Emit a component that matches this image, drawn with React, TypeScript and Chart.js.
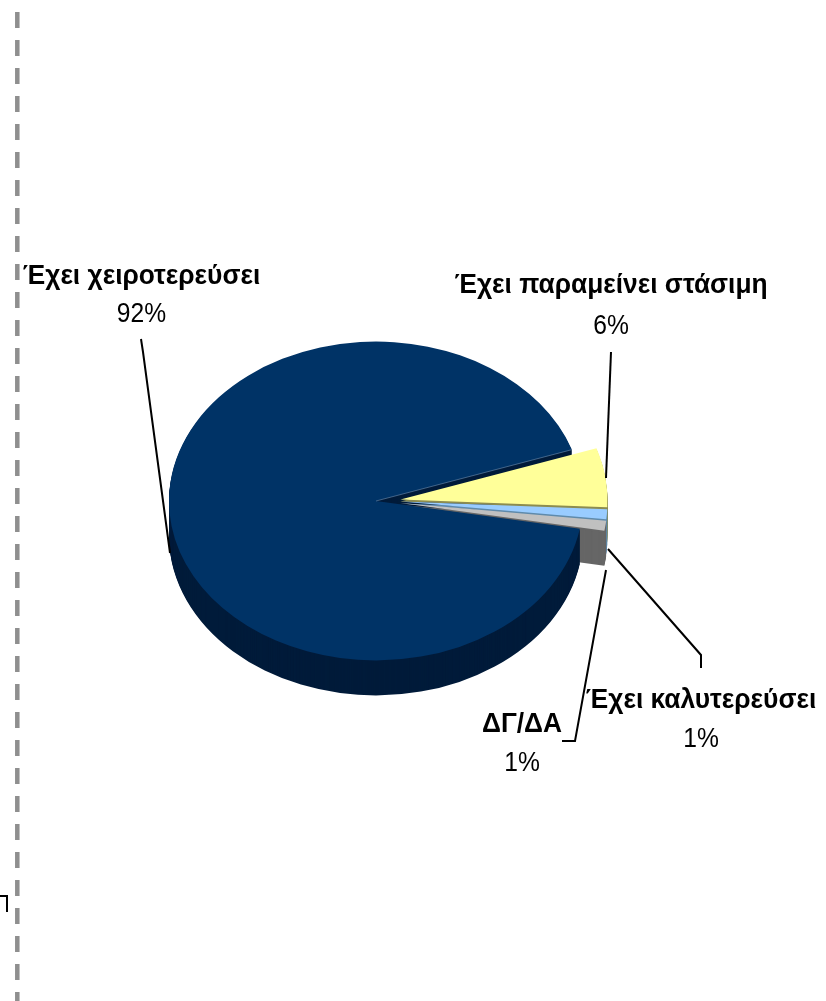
import React, { useEffect, useRef } from "react";
import { Chart, registerables } from "chart.js";

Chart.register(...registerables);

const categories = ["Έχει χειροτερεύσει", "Έχει παραμείνει στάσιμη", "Έχει καλυτερεύσει", "ΔΓ/ΔΑ"];
const values = [92, 6, 1, 1];
const topColors = ["#003366", "#FFFF99", "#99CCFF", "#C0C0C0"];
const sideColors = ["#001B3A", "#8C8C50", "#5F8AAB", "#666666"];
const explodeX = [0, 24.5, 24.5, 24.5];
const explodeY = [0, -1.5, 0.5, 2];

const SQUASH = 0.77;
const DEPTH = 35;
const FONT = '"Liberation Sans", Arial, sans-serif';

const labelPlaces = [
  { x: 141.5, y: 276, py: 314 },
  { x: 611, y: 285, py: 326 },
  { x: 701, y: 700, py: 739 },
  { x: 522, y: 724, py: 763 },
];
const leaders = [
  [[141, 339], [143, 352], [170, 553]],
  [[611, 352], [606, 478]],
  [[701, 668], [701, 655], [608, 549]],
  [[562, 741], [575, 741], [606, 570]],
];

const piePlugin = {
  id: "pie3d",
  afterDatasetsUpdate(chart: any) {
    const arcs = chart.getDatasetMeta(0).data;
    arcs.forEach((a: any, i: number) => {
      a.x += explodeX[i];
      a.y += explodeY[i] / SQUASH;
    });
  },
  beforeDatasetsDraw(chart: any) {
    const ctx = chart.ctx;
    const arcs = chart.getDatasetMeta(0).data;
    const sector = (a: any, dy: number) => {
      const cy = 501 + (a.y - 501) * SQUASH + dy;
      ctx.beginPath();
      ctx.moveTo(a.x, cy);
      ctx.ellipse(a.x, cy, a.outerRadius, a.outerRadius * SQUASH, 0, a.startAngle, a.endAngle);
      ctx.closePath();
      ctx.fill();
    };
    [1, 2, 3, 0].forEach((i) => {
      ctx.fillStyle = sideColors[i];
      for (let dy = DEPTH; dy >= 1; dy--) sector(arcs[i], dy);
    });
    [1, 2, 3].forEach((i) => {
      ctx.fillStyle = sideColors[i];
      sector(arcs[i], 2);
    });
    ctx.save();
    ctx.translate(0, 501);
    ctx.scale(1, SQUASH);
    ctx.translate(0, -501);
  },
  afterDatasetsDraw(chart: any) {
    const ctx = chart.ctx;
    ctx.restore();
    // faint bevel along the cut edge of the large slice
    const a = chart.getDatasetMeta(0).data[0];
    ctx.save();
    ctx.strokeStyle = "rgba(120,150,180,0.55)";
    ctx.lineWidth = 1;
    ctx.beginPath();
    ctx.moveTo(a.x, 501);
    ctx.lineTo(a.x + Math.cos(a.endAngle) * a.outerRadius, 501 + Math.sin(a.endAngle) * a.outerRadius * SQUASH);
    ctx.stroke();
    ctx.restore();
  },
  afterDraw(chart: any) {
    const ctx = chart.ctx;
    ctx.save();
    // dashed frame
    ctx.strokeStyle = "#8F8F8F";
    ctx.lineWidth = 4.5;
    ctx.setLineDash([16, 12]);
    ctx.beginPath();
    ctx.moveTo(17.3, 12);
    ctx.lineTo(17.3, 1001);
    ctx.stroke();
    ctx.setLineDash([]);
    // stray corner
    ctx.strokeStyle = "#000";
    ctx.lineWidth = 2;
    ctx.beginPath();
    ctx.moveTo(0, 896);
    ctx.lineTo(7, 896);
    ctx.lineTo(7, 912);
    ctx.stroke();
    // leaders
    leaders.forEach((pts) => {
      ctx.beginPath();
      pts.forEach((p, i) => (i ? ctx.lineTo(p[0], p[1]) : ctx.moveTo(p[0], p[1])));
      ctx.stroke();
    });
    // labels: taller, condensed text
    ctx.fillStyle = "#000";
    ctx.textAlign = "center";
    ctx.textBaseline = "middle";
    const put = (text: string, x: number, y: number, font: string, sx: number) => {
      ctx.save();
      ctx.translate(x, y);
      ctx.scale(sx, 1);
      ctx.font = font;
      ctx.fillText(text, 0, 0);
      ctx.restore();
    };
    categories.forEach((name, i) => {
      const p = labelPlaces[i];
      put(name, p.x, p.y, `bold 28px ${FONT}`, 0.94);
      put(`${values[i]}%`, p.x, p.py, `28px ${FONT}`, 0.88);
    });
    ctx.restore();
  },
};

export default function App() {
  const ref = useRef<HTMLCanvasElement>(null);
  useEffect(() => {
    const chart = new Chart(ref.current as HTMLCanvasElement, {
      type: "pie",
      data: {
        labels: categories,
        datasets: [
          {
            data: values,
            backgroundColor: topColors,
            borderWidth: 0,
            radius: 207,
          } as any,
        ],
      },
      options: {
        animation: false,
        responsive: false,
        rotation: 100,
        layout: { padding: { left: 0, right: 74, top: 1, bottom: 0 } },
        plugins: { legend: { display: false }, tooltip: { enabled: false } },
      },
      plugins: [piePlugin],
    } as any);
    return () => chart.destroy();
  }, []);
  return (
    <canvas
      ref={ref}
      width={826}
      height={1001}
      style={{ position: "absolute", left: 0, top: 0, width: 826, height: 1001, display: "block" }}
    />
  );
}
